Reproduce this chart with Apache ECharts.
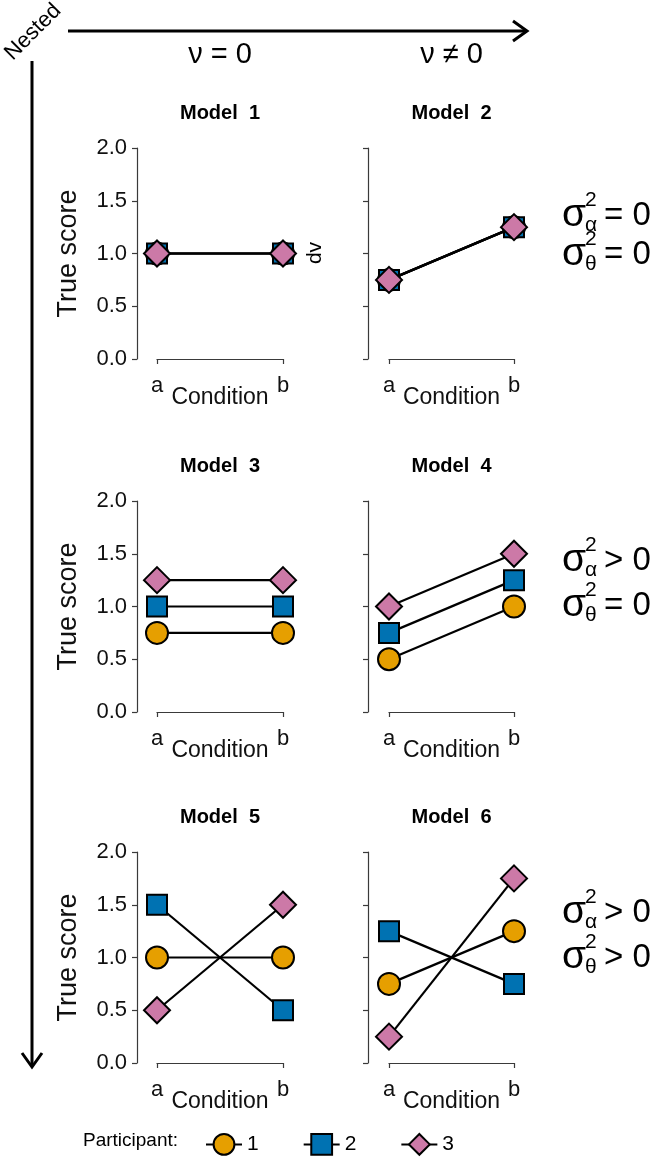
<!DOCTYPE html>
<html>
<head>
<meta charset="utf-8">
<script src="https://cdn.jsdelivr.net/npm/echarts@6/dist/echarts.min.js"></script>
<style>
html,body{margin:0;padding:0;background:#fff;}
#chart{width:652px;height:1158px;}
</style>
</head>
<body>
<div id="chart"></div>
<script>
// ---- data ----
const conditions = ['a', 'b'];
const participants = ['1', '2', '3'];
const modelTitles = ['Model  1', 'Model  2', 'Model  3', 'Model  4', 'Model  5', 'Model  6'];
// true scores per model, participant 1 / 2 / 3 at conditions a, b
const model1 = [[1.0, 1.0], [1.0, 1.0], [1.0, 1.0]];
const model2 = [[0.75, 1.25], [0.75, 1.25], [0.75, 1.25]];
const model3 = [[0.75, 0.75], [1.0, 1.0], [1.25, 1.25]];
const model4 = [[0.5, 1.0], [0.75, 1.25], [1.0, 1.5]];
const model5 = [[1.0, 1.0], [1.5, 0.5], [0.5, 1.5]];
const model6 = [[0.75, 1.25], [1.25, 0.75], [0.25, 1.75]];
const yTicks = [0, 0.5, 1.0, 1.5, 2.0];
const colHeaders = ['\u03BD = 0', '\u03BD \u2260 0'];
const rowRelations = [['= 0', '= 0'], ['> 0', '= 0'], ['> 0', '> 0']];

const models = [model1, model2, model3, model4, model5, model6];

// ---- layout ----
const FONT = '"Liberation Sans", Arial, Helvetica, sans-serif';
const colLeft = [157, 389];
const colWidth = [126, 125];
const rowTop = [148, 501, 852];
const plotH = 211;
const colors = ['#E69F00', '#0072B2', '#CC79A7'];
const symbols = ['circle', 'rect', 'diamond'];
const symSizes = [22, 20, 26];
const axisColor = '#3a3a3a';

const grids = [], xAxes = [], yAxes = [], series = [], graphics = [];

models.forEach((m, i) => {
  const col = i % 2, row = Math.floor(i / 2);
  grids.push({ left: colLeft[col], top: rowTop[row], width: colWidth[col], height: plotH, containLabel: false });
  xAxes.push({
    type: 'category', gridIndex: i, data: conditions, boundaryGap: false,
    offset: 7,
    axisLine: { show: true, lineStyle: { color: axisColor, width: 1.2 } },
    axisTick: { show: true, length: 5, inside: false, lineStyle: { color: axisColor, width: 1.2 } },
    axisLabel: { show: true, fontSize: 22, fontFamily: FONT, color: '#111', margin: 9 },
    name: 'Condition', nameLocation: 'middle', nameGap: 20, nameMoveOverlap: false,
    nameTextStyle: { fontSize: 23, fontFamily: FONT, color: '#111' },
    splitLine: { show: false }
  });
  yAxes.push({
    type: 'value', gridIndex: i, min: yTicks[0], max: yTicks[yTicks.length - 1], interval: 0.5,
    offset: col === 0 ? 20 : 21,
    axisLine: { show: true, lineStyle: { color: axisColor, width: 1.2 } },
    axisTick: { show: true, length: 5, inside: false, lineStyle: { color: axisColor, width: 1.2 } },
    axisLabel: { show: col === 0, fontSize: 22, fontFamily: FONT, color: '#111', margin: 10,
                 formatter: v => v.toFixed(1) },
    name: col === 0 ? 'True score' : '', nameLocation: 'middle', nameGap: 55, nameRotate: 90,
    nameMoveOverlap: false,
    nameTextStyle: { fontSize: 27, fontFamily: FONT, color: '#111' },
    splitLine: { show: false }
  });
  m.forEach((vals, p) => {
    series.push({
      type: 'line', name: participants[p], xAxisIndex: i, yAxisIndex: i,
      data: vals, clip: false, animation: false,
      symbol: symbols[p], symbolSize: symSizes[p], showSymbol: true,
      lineStyle: { color: '#000', width: 2.2 },
      itemStyle: { color: colors[p], borderColor: '#000', borderWidth: 2 },
      z: 2 + p
    });
  });
  graphics.push({
    type: 'text', x: colLeft[col] + colWidth[col] / 2, y: rowTop[row] - 35,
    style: { text: modelTitles[i], fontSize: 20, fontWeight: 'bold', fontFamily: FONT, fill: '#000',
             align: 'center', verticalAlign: 'middle' }
  });
});

// column headers
colHeaders.forEach((t, c) => {
  graphics.push({
    type: 'text', x: colLeft[c] + colWidth[c] / 2, y: 55,
    style: { text: t, fontSize: 29, fontFamily: FONT, fill: '#000', align: 'center', verticalAlign: 'middle' }
  });
});

// dv label
graphics.push({
  type: 'text', x: 315, y: 253, rotation: Math.PI / 2,
  style: { text: 'dv', fontSize: 21, fontFamily: FONT, fill: '#000', align: 'center', verticalAlign: 'middle' }
});

// variance annotations
const line1Y = [215, 560, 912], line2Y = [254, 605, 957];
const subs = ['\u03B1', '\u03B8'];
rowRelations.forEach((rels, r) => {
  [line1Y[r], line2Y[r]].forEach((cy, k) => {
    graphics.push({ type: 'text', x: 562, y: cy, style: { text: '\u03C3', fontSize: 39, fontFamily: FONT, fill: '#000', align: 'left', verticalAlign: 'middle' } });
    graphics.push({ type: 'text', x: 585, y: cy - 15, style: { text: '2', fontSize: 21, fontFamily: FONT, fill: '#000', align: 'left', verticalAlign: 'middle' } });
    graphics.push({ type: 'text', x: 585, y: cy + 10, style: { text: subs[k], fontSize: 21, fontFamily: FONT, fill: '#000', align: 'left', verticalAlign: 'middle' } });
    graphics.push({ type: 'text', x: 604, y: cy + 1, style: { text: rels[k], fontSize: 33, fontFamily: FONT, fill: '#000', align: 'left', verticalAlign: 'middle' } });
  });
});

// arrows
graphics.push({ type: 'line', shape: { x1: 68, y1: 31, x2: 526, y2: 31 }, style: { stroke: '#000', lineWidth: 3 } });
graphics.push({ type: 'polyline', shape: { points: [[513, 21], [527, 31], [513, 41]] }, style: { stroke: '#000', lineWidth: 3, fill: null } });
graphics.push({ type: 'line', shape: { x1: 32, y1: 61, x2: 32, y2: 1066 }, style: { stroke: '#000', lineWidth: 3 } });
graphics.push({ type: 'polyline', shape: { points: [[22, 1053], [32, 1067], [42, 1053]] }, style: { stroke: '#000', lineWidth: 3, fill: null } });
graphics.push({
  type: 'text', x: 33, y: 32, rotation: Math.PI / 4,
  style: { text: 'Nested', fontSize: 22, fontFamily: FONT, fill: '#000', align: 'center', verticalAlign: 'middle' }
});

// legend label
graphics.push({
  type: 'text', x: 83, y: 1141,
  style: { text: 'Participant:', fontSize: 19, fontFamily: FONT, fill: '#000', align: 'left', verticalAlign: 'middle' }
});

const chart = echarts.init(document.getElementById('chart'), null, { renderer: 'canvas' });
chart.setOption({
  backgroundColor: '#fff',
  animation: false,
  grid: grids,
  xAxis: xAxes,
  yAxis: yAxes,
  series: series,
  legend: {
    data: participants, left: 200, top: 1128, itemWidth: 36, itemHeight: 26, itemGap: 44,
    selectedMode: false,
    textStyle: { fontSize: 21, fontFamily: FONT, color: '#000' }
  },
  graphic: graphics
});
</script>
</body>
</html>
